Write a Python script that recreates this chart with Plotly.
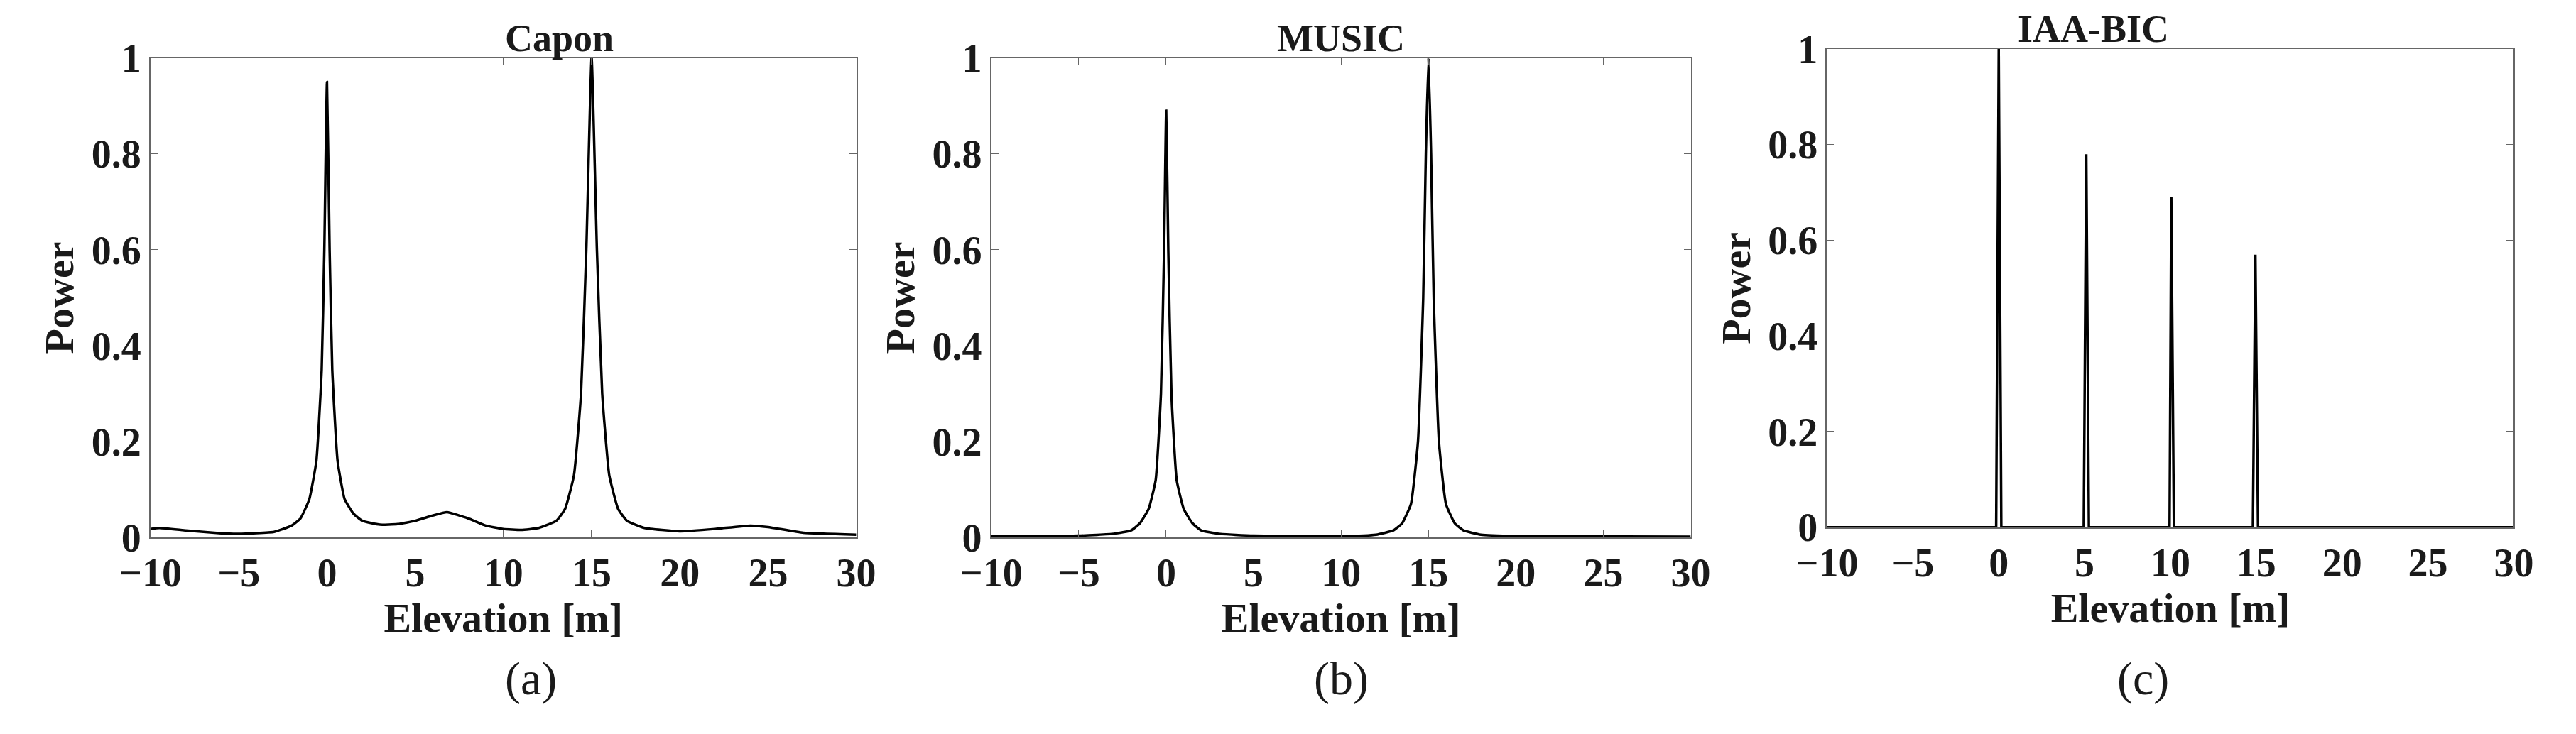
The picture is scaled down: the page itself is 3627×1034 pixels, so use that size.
import plotly.graph_objects as go

# Capon spectrum
capon_x = [-10, -9.5, -8, -6, -5, -3, -2, -1.5, -1, -0.6, -0.3, -0.15, 0, 0.15, 0.3, 0.6, 1, 1.5, 2, 3,
           4, 5, 6, 6.8, 8, 9, 10, 11, 12, 13, 13.5, 14, 14.4, 14.7, 15, 15.3, 15.6, 16, 16.5, 17, 18,
           20, 22, 24, 25, 27, 30]
capon_y = [0.018, 0.02, 0.015, 0.009, 0.008, 0.012, 0.025, 0.04, 0.08, 0.16, 0.35, 0.6, 0.95, 0.6, 0.35,
           0.16, 0.08, 0.05, 0.035, 0.027, 0.028, 0.035, 0.046, 0.053, 0.04, 0.025, 0.018, 0.016, 0.02,
           0.035, 0.06, 0.13, 0.3, 0.6, 1.0, 0.6, 0.3, 0.13, 0.06, 0.035, 0.02, 0.013, 0.018, 0.025,
           0.022, 0.01, 0.006]

# MUSIC spectrum
music_x = [-10, -5, -3, -2, -1.5, -1, -0.6, -0.3, -0.12, 0, 0.12, 0.3, 0.6, 1, 1.5, 2, 3, 5, 10, 12,
           13, 13.5, 14, 14.4, 14.7, 14.85, 15, 15.15, 15.3, 15.6, 16, 16.5, 17, 18, 20, 30]
music_y = [0.003, 0.004, 0.008, 0.015, 0.03, 0.06, 0.12, 0.3, 0.6, 0.89, 0.6, 0.3, 0.12, 0.06, 0.03,
           0.015, 0.008, 0.004, 0.003, 0.006, 0.015, 0.03, 0.07, 0.2, 0.5, 0.8, 1.0, 0.8, 0.5, 0.2,
           0.07, 0.03, 0.015, 0.006, 0.003, 0.002]

# IAA-BIC spectrum
iaa_x = [-10, -0.15, 0, 0.15, 4.95, 5.1, 5.25, 9.95, 10.05, 10.2, 14.8, 14.95, 15.1, 30]
iaa_y = [0, 0, 1.0, 0, 0, 0.78, 0, 0, 0.69, 0, 0, 0.57, 0, 0]

titles = ["Capon", "MUSIC", "IAA-BIC"]
captions = ["(a)", "(b)", "(c)"]
x_ticks = [-10, -5, 0, 5, 10, 15, 20, 25, 30]
y_ticks = [0, 0.2, 0.4, 0.6, 0.8, 1]

font = "Liberation Serif"
ink = "#1a1a1a"
domains_x = [[0.045, 0.3245], [0.378, 0.655], [0.709, 0.981]]
domains_y = [[0.26, 0.955], [0.26, 0.955], [0.275, 0.968]]
series = [(capon_x, capon_y, "spline"), (music_x, music_y, "spline"), (iaa_x, iaa_y, "linear")]

fig = go.Figure()
for i, (xs, ys, shape) in enumerate(series):
    n = "" if i == 0 else str(i + 1)
    fig.add_trace(go.Scatter(x=xs, y=ys, mode="lines", xaxis="x" + n, yaxis="y" + n,
                             line=dict(color="black", width=3.5, shape=shape, smoothing=0.4),
                             showlegend=False))
    axis_style = dict(showline=True, mirror="ticks", linecolor="#666", linewidth=2,
                      ticks="inside", ticklen=10, tickcolor="#666", showgrid=False, zeroline=False,
                      tickfont=dict(family=font, size=56, color=ink, weight="bold"))
    fig.layout["xaxis" + n] = dict(axis_style, domain=domains_x[i], range=[-10, 30],
                                   tickvals=x_ticks, anchor="y" + n,
                                   title=dict(text="<b>Elevation [m]</b>", standoff=2,
                                              font=dict(family=font, size=58, color=ink)))
    fig.layout["yaxis" + n] = dict(axis_style, domain=domains_y[i], range=[0, 1],
                                   tickvals=y_ticks, anchor="x" + n,
                                   ticktext=["0", "0.2", "0.4", "0.6", "0.8", "1"],
                                   title=dict(text="<b>Power</b>", standoff=6,
                                              font=dict(family=font, size=58, color=ink)))
    xc = sum(domains_x[i]) / 2
    fig.add_annotation(x=xc, y=domains_y[i][1], xref="paper", yref="paper", yanchor="bottom",
                       text="<b>" + titles[i] + "</b>", showarrow=False, yshift=-4,
                       font=dict(family=font, size=54, color=ink))
    fig.add_annotation(x=xc, y=0.015, xref="paper", yref="paper", yanchor="bottom",
                       text=captions[i], showarrow=False,
                       font=dict(family=font, size=66, color=ink))

fig.update_layout(width=3627, height=1034, margin=dict(l=0, r=0, t=0, b=0),
                  plot_bgcolor="white", paper_bgcolor="white",
                  font=dict(family=font, color=ink))
fig.write_html("out.html")
